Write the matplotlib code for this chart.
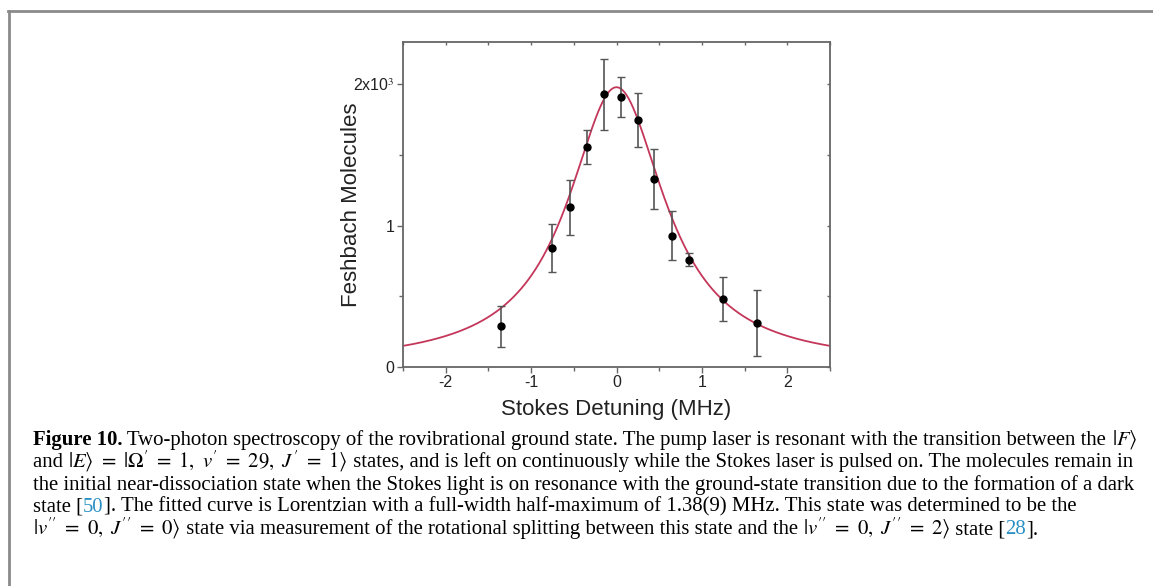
import numpy as np
import matplotlib
matplotlib.use("Agg")
import matplotlib.pyplot as plt
from matplotlib.ticker import MultipleLocator, FixedLocator

# measured points: detuning (MHz), Feshbach molecules (x10^3), error bar
detuning = [-1.35, -0.75, -0.55, -0.35, -0.15, 0.05, 0.25, 0.44, 0.65, 0.85, 1.25, 1.65]
molecules = [0.29, 0.84, 1.13, 1.56, 1.93, 1.91, 1.75, 1.33, 0.93, 0.76, 0.48, 0.31]
errors = [0.145, 0.17, 0.195, 0.12, 0.25, 0.14, 0.19, 0.21, 0.175, 0.045, 0.157, 0.235]

# Lorentzian fit parameters (FWHM 1.38 MHz from the caption)
FIT_CENTER = 0.0
FIT_FWHM = 1.38
FIT_AMP = 1.97
FIT_OFFSET = 0.01

XTICKS = [-2, -1, 0, 1, 2]
YTICKS = [0, 1, 2]
YTICKLABELS = ["0", "1", r"2x10$^3$"]

BLUE = "#2a8fc4"
KET_E = "$|E\\rangle\\ =\\ |\\Omega'\\ =\\ 1,\\ v'\\ =\\ 29,\\ J'\\ =\\ 1\\rangle$"
KET_00 = "$|v''\\ =\\ 0,\\ J''\\ =\\ 0\\rangle$"
KET_02 = "$|v''\\ =\\ 0,\\ J''\\ =\\ 2\\rangle$"
CAPTION = [
    [("Figure 10.", "bold", "k"),
     (" Two-photon spectroscopy of the rovibrational ground state. The pump laser is resonant with the transition between the ", "normal", "k"),
     ("$|F\\rangle$", "normal", "k")],
    [("and ", "normal", "k"), (KET_E, "normal", "k"),
     (" states, and is left on continuously while the Stokes laser is pulsed on. The molecules remain in", "normal", "k")],
    [("the initial near-dissociation state when the Stokes light is on resonance with the ground-state transition due to the formation of a dark", "normal", "k")],
    [("state [", "normal", "k"), ("50", "normal", BLUE),
     ("]. The fitted curve is Lorentzian with a full-width half-maximum of 1.38(9) MHz. This state was determined to be the", "normal", "k")],
    [(KET_00, "normal", "k"),
     (" state via measurement of the rotational splitting between this state and the ", "normal", "k"),
     (KET_02, "normal", "k"), (" state [", "normal", "k"),
     ("28", "normal", BLUE), ("].", "normal", "k")],
]

plt.rcParams["mathtext.fontset"] = "stix"

W, H = 1153, 586
fig = plt.figure(figsize=(W / 100, H / 100), dpi=100)

# frame lines of the figure panel
fig.add_artist(plt.Line2D([8 / W, 1], [1 - 11 / H, 1 - 11 / H], color="#8a8a8a", lw=2))
fig.add_artist(plt.Line2D([9 / W, 9 / W], [0, 1 - 11 / H], color="#8a8a8a", lw=2))

ax = fig.add_axes([403 / W, 1 - 367 / H, (830 - 403) / W, (367 - 42) / H])

xs = np.linspace(-2.5, 2.5, 600)
fit = FIT_OFFSET + FIT_AMP / (1 + (2 * (xs - FIT_CENTER) / FIT_FWHM) ** 2)
ax.plot(xs, fit, color="#c4375a", lw=1.3, zorder=2)
ax.errorbar(detuning, molecules, yerr=errors, fmt="o", color="black", ms=5,
            ecolor="#555555", elinewidth=1.2, capsize=3, capthick=1, zorder=3)

ax.set_xlim(-2.5, 2.5)
ax.set_ylim(0, 2.3)
ax.xaxis.set_major_locator(FixedLocator(XTICKS))
ax.xaxis.set_minor_locator(MultipleLocator(0.5))
ax.yaxis.set_major_locator(FixedLocator(YTICKS))
ax.yaxis.set_minor_locator(MultipleLocator(0.5))
ax.set_yticklabels(YTICKLABELS)
ax.set_xticklabels([str(t) for t in XTICKS])

for s in ax.spines.values():
    s.set_color("#666666")
    s.set_linewidth(1.3)
ax.tick_params(which="major", direction="out", length=4, color="#666666", width=1,
               labelsize=11.5, labelcolor="#222222", pad=2, labelfontfamily="Liberation Sans")
ax.tick_params(which="minor", direction="out", length=3, color="#666666", width=1)
ax.tick_params(axis="x", which="both", top=True)
ax.tick_params(axis="y", which="both", right=True)
# the top and right ticks are tiny and point inward
for tick in ax.xaxis.get_major_ticks() + ax.xaxis.get_minor_ticks():
    tick.tick2line.set_marker(3)
    tick.tick2line.set_markersize(2)
for tick in ax.yaxis.get_major_ticks() + ax.yaxis.get_minor_ticks():
    tick.tick2line.set_marker(0)
    tick.tick2line.set_markersize(2)

ax.set_xlabel("Stokes Detuning (MHz)", fontsize=16, family="Liberation Sans", color="#222222", labelpad=6)
ax.set_ylabel("Feshbach Molecules", fontsize=16, family="Liberation Sans", color="#222222")
ax.yaxis.set_label_coords(-0.096, 0.5)

# caption, drawn piece by piece so bold / coloured / math runs sit on one line
fig.canvas.draw()
renderer = fig.canvas.get_renderer()
x0 = 33
x_end = 1140
y_first = 445
line_gap = 22.3


def draw_caption(size):
    drawn = []
    widths = []
    for i, line in enumerate(CAPTION):
        x = x0
        y = y_first + i * line_gap
        for text, weight, col in line:
            t = fig.text(x / W, 1 - y / H, text, fontsize=size, weight=weight, color=col,
                         family="Liberation Serif", va="baseline", ha="left")
            x += t.get_window_extent(renderer).width
            drawn.append(t)
        widths.append(x - x0)
    return drawn, widths


# size the caption so the first line spans the panel like in the original
trial, widths = draw_caption(12)
for t in trial:
    t.remove()
draw_caption(12 * (x_end - x0) / widths[0])

fig.savefig("out.png", dpi=100)
